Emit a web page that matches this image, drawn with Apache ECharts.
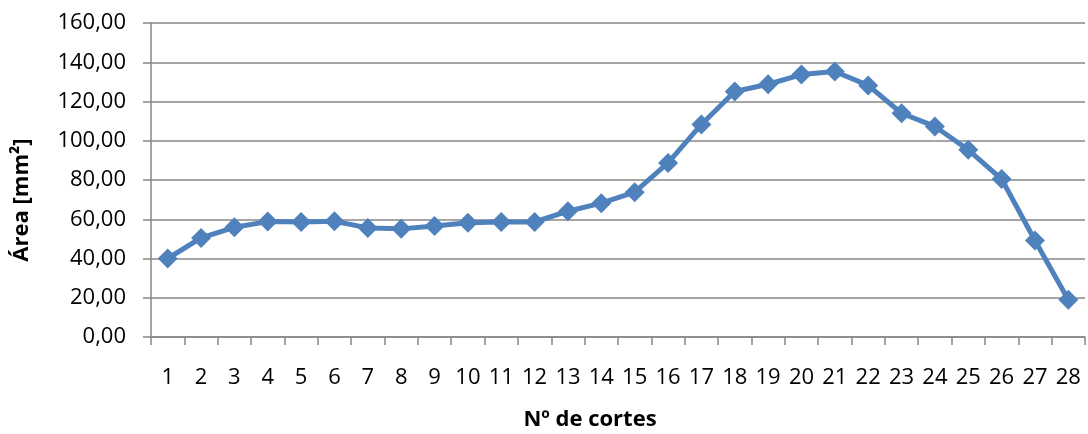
<!DOCTYPE html>
<html>
<head>
<meta charset="utf-8">
<script src="https://cdn.jsdelivr.net/npm/echarts@6/dist/echarts.min.js"></script>
<style>html,body{margin:0;padding:0;background:#fff}#c{width:1088px;height:434px}</style>
</head>
<body>
<div id="c"></div>
<script>
const categories = ['1','2','3','4','5','6','7','8','9','10','11','12','13','14','15','16','17','18','19','20','21','22','23','24','25','26','27','28'];
const areaValues = [40.0,50.5,55.9,58.8,58.6,59.0,55.6,55.1,56.6,58.2,58.6,58.6,64.1,68.2,73.8,88.7,108.3,125.1,128.8,133.7,135.3,128.2,114.0,107.3,95.4,80.5,49.2,19.0];
const xTitle = 'Nº de cortes';
const yTitle = 'Área [mm²]';
const FONT = '"Open Sans", Lato, sans-serif';
const chart = echarts.init(document.getElementById('c'), null, {renderer:'canvas'});
chart.setOption({
  animation:false,
  backgroundColor:'#fff',
  grid:{left:151,right:3,top:23,bottom:97},
  xAxis:{
    type:'category', data:categories, boundaryGap:true,
    axisLine:{lineStyle:{color:'#878787',width:1.5}},
    axisTick:{show:true,alignWithLabel:false,length:8,lineStyle:{color:'#878787',width:1.5}},
    axisLabel:{color:'#000',fontFamily:FONT,fontSize:22,margin:30,interval:0},
    splitLine:{show:false}
  },
  yAxis:{
    type:'value', min:0, max:160, interval:20,
    axisLine:{show:true,lineStyle:{color:'#878787',width:1.5}},
    axisTick:{show:true,length:8,lineStyle:{color:'#878787',width:1.5}},
    axisLabel:{color:'#000',fontFamily:FONT,fontSize:22,margin:25,formatter:v=>v.toFixed(2).replace('.',',')},
    splitLine:{show:true,lineStyle:{color:'#878787',width:1.5}}
  },
  graphic:[
    {type:'text',x:590,y:420,style:{text:xTitle,font:'bold 22px '+FONT,fill:'#000',textAlign:'center',textVerticalAlign:'middle'}},
    {type:'text',x:22,y:200,rotation:Math.PI/2,style:{text:yTitle,font:'bold 22px '+FONT,fill:'#000',textAlign:'center',textVerticalAlign:'middle'}}
  ],
  series:[{
    type:'line', data:areaValues,
    symbol:'diamond', symbolSize:20,
    lineStyle:{color:'#4F81BD',width:5},
    itemStyle:{color:'#4F81BD'}
  }]
});
</script>
</body>
</html>
